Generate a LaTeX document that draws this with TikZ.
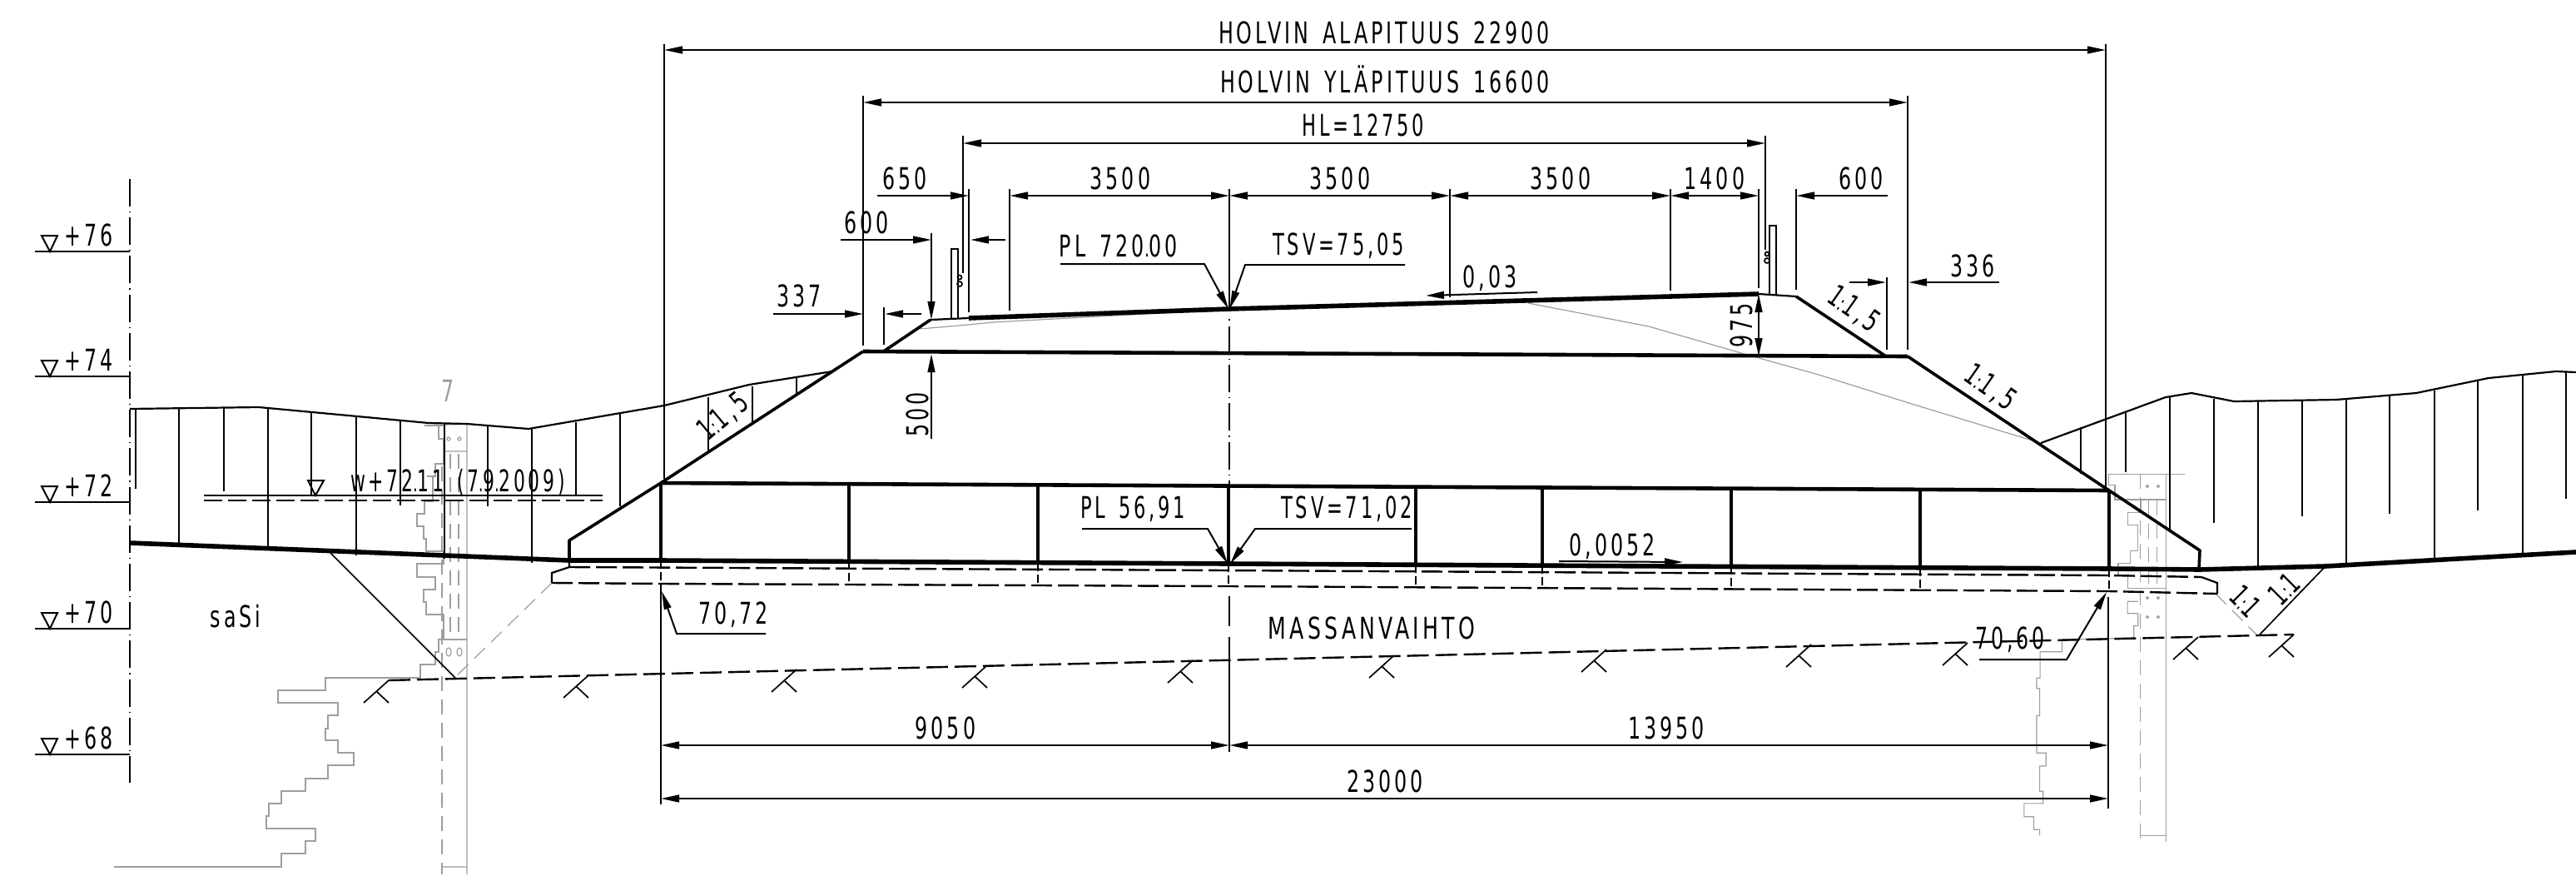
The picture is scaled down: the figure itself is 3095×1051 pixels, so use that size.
\documentclass[tikz,border=0pt]{standalone}
\usepackage{fontspec}
\usepackage{graphicx}
\setmainfont[FakeStretch=0.66,LetterSpace=11,WordSpace=1.5]{DejaVu Sans}
\usetikzlibrary{arrows.meta}
\definecolor{pf}{gray}{0.62}
\newcommand\cln{{\fontsize{13}{13}\selectfont:}}
\newcommand\dt{{\fontsize{14}{14}\selectfont.}}
\tikzset{
  lbl/.style={anchor=base,inner sep=0pt,font=\fontsize{18}{20}\selectfont},
  lblc/.style={anchor=center,inner sep=0pt,font=\fontsize{18}{20}\selectfont},
  dimm/.style={line width=1pt,>={Triangle[length=11pt,width=4.4pt]}},
  thinl/.style={line width=.85pt},
  hatchl/.style={line width=.75pt},
  gnd/.style={line width=2.8pt,line join=round},
  form/.style={line width=2.3pt,line join=round},
  slope/.style={line width=1.8pt,line join=round},
  barl/.style={line width=1.7pt},
  dsh/.style={line width=1.2pt,dash pattern=on 12.5pt off 3.5pt},
  dvert/.style={line width=.8pt,dash pattern=on 5pt off 2pt},
  axisl/.style={line width=1pt,dash pattern=on 16.5pt off 3pt on .6pt off 3pt},
  grayl/.style={line width=.6pt,draw=pf,line join=miter},
  graydash/.style={line width=.6pt,draw=pf,dash pattern=on 9pt off 5pt},
  tri/.style={line width=1pt,line join=miter}
}
\newcommand\KK[2]{\draw[thinl] (#1,#2) -- ++(-30,27) (#1-15,#2+13) -- ++(15,14);}
\newcommand\LV[3]{%
  \draw[line width=1pt] (42,#1) -- (156,#1);
  \draw[tri] (50,#1-19) -- (69,#1-19) -- (60,#1) -- cycle;
  \node[lbl,anchor=base west] (lv#3) at (77,#1-7) {#2};}
\begin{document}
\begin{tikzpicture}[x=0.5pt,y=-0.5pt]
\useasboundingbox (0,0) rectangle (3095,1051);
\fill[white] (0,0) rectangle (3095,1051);

% ---------- gray bore profile, left
\draw[grayl] (561,510) -- (561,1050) (510,511) -- (561,509) (533,542) -- (561,542) (531,1041) -- (561,1041);
\draw[graydash] (531,560) -- (531,1050) (541,545) -- (541,763) (551,545) -- (551,763);
\draw[grayl] (510,511) -- (533,511) (527,511) -- (527,527) -- (533,527) -- (533,557) -- (523,557) -- (523,572) -- (513,572) -- (520,572) -- (520,602) -- (510,602) -- (510,617) -- (501,617) -- (501,632) -- (509,632) -- (509,647) -- (512,647) -- (512,662) -- (533,662) -- (533,677) -- (501,677) -- (501,693) -- (523,693) -- (523,708) -- (509,708) -- (509,723) -- (512,723) -- (512,738) -- (533,738) -- (533,768);
\draw[grayl] (561,768) -- (527,768) -- (527,783) -- (523,783) -- (523,798) -- (505,798) -- (505,814) -- (391,814) -- (391,829) -- (334,829) -- (334,844) -- (406,844) -- (406,859) -- (394,859) -- (394,875) -- (391,875) -- (391,889) -- (406,889) -- (406,904) -- (425,904) -- (425,919) -- (394,919) -- (394,935) -- (367,935) -- (367,950) -- (338,950) -- (338,965) -- (323,965) -- (323,980) -- (320,980) -- (320,995) -- (379,995) -- (379,1010) -- (367,1010) -- (367,1025) -- (338,1025) -- (338,1041) -- (137,1041);
\draw[grayl] (539,527) circle (2) (552,527) circle (2);
\draw[grayl] (539,783) ellipse (3 and 5) (552,783) ellipse (3 and 5);

% ---------- gray bore profile, right
\begin{scope}[shift={(2300,400)},xscale=0.5071,yscale=0.4184]
\draw[grayl] (460,405) -- (640,405) (597,405) -- (597,1460) (475,478) -- (597,478) (535,1442) -- (597,1442);
\draw[graydash] (535,405) -- (535,1460) (555,480) -- (555,720) (575,480) -- (575,720);
\draw[grayl] (460,405) -- (460,437) -- (475,437) -- (475,478) -- (537,478) -- (537,515) -- (505,515) -- (505,550) -- (530,550) -- (530,625) -- (512,625) -- (512,660) -- (483,660) -- (483,695) -- (505,695) -- (505,733) -- (597,733);
\draw[grayl] (530,770) -- (505,770) -- (505,805) -- (530,805) -- (530,840) -- (520,840) -- (520,875) -- (350,880) -- (350,915) -- (298,915) -- (298,990) -- (290,990) -- (290,1020) -- (297,1020) -- (297,1098) -- (290,1098) -- (290,1205) -- (312,1205) -- (312,1243) -- (297,1243) -- (297,1315) -- (305,1315) -- (305,1350) -- (260,1350) -- (260,1388) -- (283,1388) -- (283,1425) -- (297,1425) -- (297,1442);
\end{scope}
\foreach \xx/\yy in {2580/584,2593/584,2580/718,2593/718,2580/741,2593/741}
  \draw[grayl] (\xx,\yy) circle (1.5);

% gray old surface under the crown
\draw[grayl] (1105,395) -- (1163,390) -- (1193,387) -- (1450,373);
\draw[grayl] (1836,364) -- (1981,392) -- (2099,426) -- (2185,450) -- (2300,486) -- (2445,530);
% gray dashed slopes
\draw[graydash] (663,700) -- (546,814) (2662,713) -- (2711,762);

% ---------- axis and levels
\draw[axisl] (156,215) -- (156,940);
\LV{302}{+76}{a}
\LV{452}{+74}{b}
\LV{603}{+72}{c}
\LV{755}{+70}{d}
\LV{906}{+68}{e}

% ---------- terrain
\draw[line width=1.1pt,line join=round] (156,491) -- (311,489) -- (515,508) -- (561,509) -- (635,515) -- (798,487) -- (900,462) -- (1000,446);
\draw[line width=1.1pt,line join=round] (2452,532) -- (2602,477) -- (2633,472) -- (2684,482) -- (2807,480) -- (2903,472) -- (2990,454) -- (3071,446) -- (3095,447);
\foreach \xx/\ya/\yb in {163/492/587,215/491/655,269/490/590,322/490/661,374/496/595,428/501/667,481/506/607,534/509/671,586/512/608,639/515/676,692/507/595,745/497/608,851/477/543,904/464/508,957/453/474,2500/513/569,2554/495/567,2607/477/638,2660/479/628,2713/482/681,2766/481/620,2819/480/678,2871/476/617,2925/469/672,2977/457/613,3031/450/666,3083/446/599}
  \draw[hatchl] (\xx,\ya) -- (\xx,\yb);

% water level
\draw[thinl] (245,595) -- (724,595);
\draw[line width=1.1pt,dash pattern=on 11pt off 3.5pt] (245,601) -- (724,601);
\draw[tri] (370,577) -- (389,577) -- (379,595) -- cycle;

% ---------- embankment
\draw[gnd] (156,652) -- (684,673) -- (794,673) -- (1476,677) -- (2534,683) -- (2643,684) -- (2794,680) -- (3095,663);
\draw[slope] (684,673) -- (684,649) -- (794,580) -- (1037,422);
\draw[slope] (2292,428) -- (2534,589) -- (2643,661) -- (2642,684);
\draw[form] (1037,422) -- (2292,428);
\draw[slope] (1063,421) -- (1118,384);
\draw[slope] (2158,356) -- (2266,428);
\draw[thinl,line width=1.1pt] (1118,384) -- (1164,382);
\draw[thinl,line width=1.1pt] (2113,353) -- (2158,356);
\draw[line width=2.8pt] (1164,382) -- (1477,371) -- (2113,353);
\draw[form] (794,580) -- (2534,589);
\foreach \xx/\ya/\yb/\yc in {794/580/673/701,1020/581.2/674.3/702.2,1247/582.3/675.6/703.3,1476/583.5/676.9/704.5,1701/584.7/678.2/705.7,1853/585.5/679.1/706.5,2080/586.7/680.4/707.7,2307/587.8/681.7/708.8,2534/589/683/710}{
  \draw[barl] (\xx,\ya) -- (\xx,\yb);
  \draw[dvert] (\xx,\yb) -- (\xx,\yc);
}
% mass exchange
\draw[dsh] (684,681) -- (1476,685) -- (2534,691) -- (2645,693);
\draw[dsh] (663,700) -- (794,701) -- (1476,704) -- (2534,710) -- (2664,713);
\draw[line width=1.1pt] (684,673) -- (684,681) -- (663,688) -- (663,700);
\draw[line width=1.1pt] (2645,693) -- (2664,700) -- (2664,713);
% excavation bottom
\draw[line width=1.2pt,dash pattern=on 13pt off 4pt] (467,817) -- (2756,762);
\draw[thinl] (397,664) -- (547,814);
\draw[thinl] (2794,680) -- (2715,762);
\KK{467}{817}\KK{707}{811}\KK{957}{804}\KK{1186}{799}\KK{1433}{793}\KK{1675}{787}\KK{1930}{780}\KK{2176}{774}\KK{2364}{772}\KK{2641}{765}\KK{2756}{762}

% ---------- railings
\draw[thinl] (1143,382) -- (1143,299) -- (1151,299) -- (1151,382);
\draw[thinl] (2126,354) -- (2126,271) -- (2134,271) -- (2134,354);
\draw[thinl] (1153,333) circle (2.5) (1153,341) circle (3);
\draw[thinl] (2123,305) circle (2.5) (2123,313) circle (3);

% ---------- extension lines
\draw[thinl] (798,53) -- (798,575);
\draw[thinl] (2530,53) -- (2530,588);
\draw[thinl] (1037,115) -- (1037,415);
\draw[thinl] (2292,115) -- (2292,420);
\draw[thinl] (1157,163) -- (1157,328);
\draw[thinl] (2121,163) -- (2121,300);
\draw[thinl] (1164,227) -- (1164,375);
\draw[thinl] (1213,227) -- (1213,373);
\draw[thinl] (1477,227) -- (1477,371);
\draw[thinl] (1742,227) -- (1742,357);
\draw[thinl] (2007,227) -- (2007,349);
\draw[thinl] (2113,227) -- (2113,346);
\draw[thinl] (2158,227) -- (2158,348);
\draw[thinl] (1062,369) -- (1062,414);
\draw[thinl] (2267,333) -- (2267,420);
% lower extensions
\draw[thinl] (794,701) -- (794,966);
\draw[line width=1.3pt] (2533,717) -- (2533,971);
\draw[axisl,line width=.9pt] (1477,392) -- (1477,583);
\draw[thinl] (1477,383) -- (1477,384.5);
\draw[thinl] (1477,716) -- (1477,752);
\draw[thinl] (1477,765) -- (1477,903);

% ---------- dimension lines
\draw[dimm,<->] (798,60) -- (2530,60);
\draw[dimm,<->] (1037,123) -- (2292,123);
\draw[dimm,<->] (1157,172) -- (2121,172);
\draw[dimm,->] (1054,235) -- (1164,235);
\draw[dimm,<->] (1213,235) -- (1477,235);
\draw[dimm,<->] (1477,235) -- (1742,235);
\draw[dimm,<->] (1742,235) -- (2007,235);
\draw[dimm,<->] (2007,235) -- (2113,235);
\draw[dimm,->] (2268,235) -- (2158,235);
\draw[dimm,->] (1010,288) -- (1119,288);
\draw[dimm,->] (1208,288) -- (1166,288);
\draw[dimm,->] (929,377) -- (1037,377);
\draw[dimm,->] (1107,377) -- (1063,377);
\draw[dimm,->] (2402,339) -- (2293,339);
\draw[dimm,->] (2222,339) -- (2266,339);
\draw[dimm,->] (1119,280) -- (1119,384);
\draw[dimm,->] (1119,527) -- (1119,425);
\draw[dimm,<->] (2113,353) -- (2113,428);
\draw[dimm,<->] (794,895) -- (1477,895);
\draw[dimm,<->] (1477,895) -- (2533,895);
\draw[dimm,<->] (794,959) -- (2533,959);

% leaders
\draw[dimm,->] (1274,317) -- (1447,317) -- (1476,371);
\draw[dimm,->] (1688,318) -- (1496,318) -- (1477.5,371);
\draw[dimm,->] (1847,351) -- (1713,355);
\draw[dimm,->] (1873,674) -- (2022,675);
\draw[dimm,->] (1300,635) -- (1451,635) -- (1475,677);
\draw[dimm,->] (1696,635) -- (1508,635) -- (1478,677);
\draw[dimm,->] (920,761) -- (813,761) -- (795,710);
\draw[dimm,->] (2378,792) -- (2483,792) -- (2531,711);

% ---------- texts
\node[lbl] (t01) at (1663,52) {HOLVIN ALAPITUUS 22900};
\node[lbl] (t02) at (1664,111) {HOLVIN YLÄPITUUS 16600};
\node[lbl] (t03) at (1638,163) {\scalebox{.95}[1]{HL=12750}};
\node[lbl] (t04) at (1087,227) {650};
\node[lbl] (t05) at (1346,227) {3500};
\node[lbl] (t06) at (1610,227) {3500};
\node[lbl] (t07) at (1875,227) {3500};
\node[lbl] (t08) at (2060,227) {1400};
\node[lbl] (t09) at (2236,227) {600};
\node[lbl] (t10) at (1041,280) {600};
\node[lbl] (t11) at (960,368) {337};
\node[lbl] (t12) at (2370,332) {336};
\node[lbl] (t13) at (1344,308) {PL 720\dt 00};
\node[lbl] (t14) at (1608,306) {\scalebox{.95}[1]{TSV=75,05}};
\node[lbl] (t15) at (1790,345) {0,03};
\node[lbl,rotate=90] (t16) at (2105,391) {975};
\node[lbl,rotate=90] (t17) at (1115,498) {500};
\node[lblc,rotate=-35] (t18) at (2227,372) {1\cln 1,5};
\node[lblc,rotate=-35] (t19) at (2391,466) {1\cln 1,5};
\node[lblc,rotate=40] (t20) at (869,501) {1\cln 1,5};
\node[lblc,rotate=-45] (t21) at (2698,722) {1\cln 1};
\node[lblc,rotate=45] (t22) at (2744,707) {1\cln 1};
\node[lbl] (t23) at (550,590) {\scalebox{.92}[1]{w+72\dt 11 (7\dt 9\dt 2009)}};
\node[lbl] (t24) at (283,753) {saSi};
\node[lbl] (t25) at (1361,622) {\scalebox{.95}[1]{PL 56,91}};
\node[lbl] (t26) at (1618,622) {\scalebox{.95}[1]{TSV=71,02}};
\node[lbl] (t27) at (1937,667) {0,0052};
\node[lbl] (t28) at (881,749) {70,72};
\node[lbl] (t29) at (1648,767) {\scalebox{1.06}[1]{MASSANVAIHTO}};
\node[lbl] (t30) at (2415,779) {70,60};
\node[lbl] (t31) at (1136,887) {9050};
\node[lbl] (t32) at (2002,887) {13950};
\node[lbl] (t33) at (1664,951) {23000};
\node[lbl,text=pf] (t34) at (538,482) {7};
\end{tikzpicture}
\end{document}
